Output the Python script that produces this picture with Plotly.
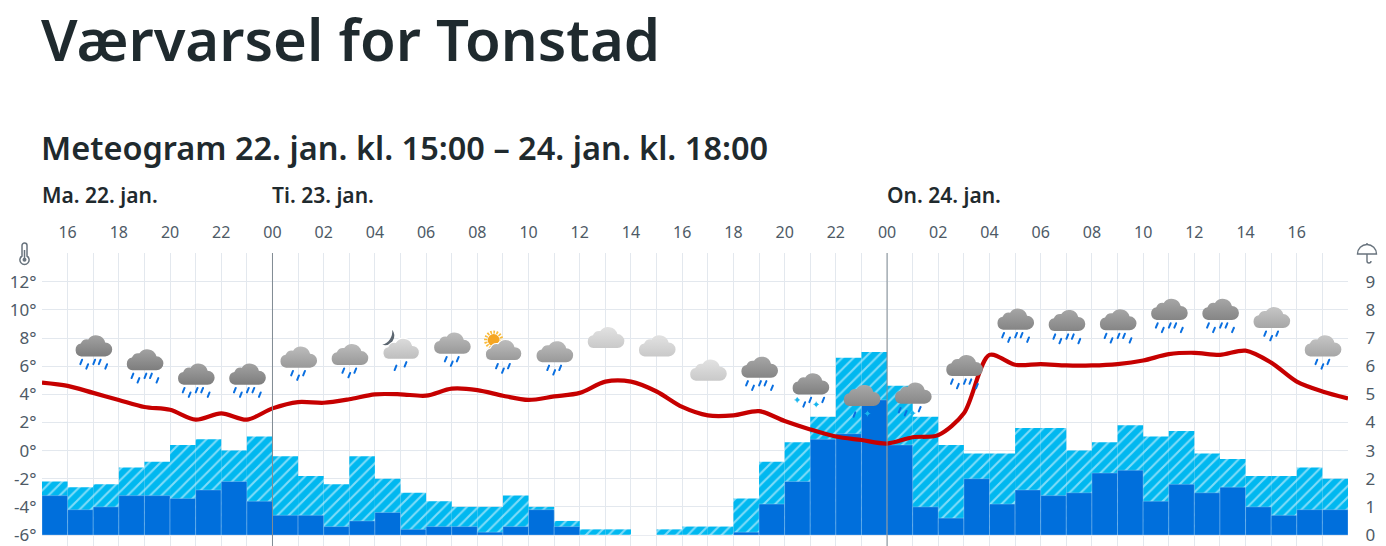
import base64
import plotly.graph_objects as go

hours = ["15","16","17","18","19","20","21","22","23","00","01","02","03","04","05","06","07","08","09","10","11","12","13","14","15","16","17","18","19","20","21","22","23","00","01","02","03","04","05","06","07","08","09","10","11","12","13","14","15","16","17","18"]
temperature = [4.83,4.6,4.1,3.6,3.1,2.9,2.2,2.65,2.2,3.0,3.45,3.4,3.65,4.0,4.0,3.9,4.4,4.3,3.9,3.6,3.85,4.1,4.9,4.9,4.2,3.1,2.5,2.5,2.8,2.1,1.5,1.0,0.75,0.5,0.95,1.1,2.65,6.8,6.1,6.15,6.05,6.05,6.15,6.4,6.85,6.95,6.8,7.1,6.25,4.9,4.2,3.7]
precip_max = [1.9,1.7,1.8,2.4,2.6,3.2,3.4,3.0,3.5,2.8,2.1,1.8,2.8,2.0,1.5,1.2,1.0,1.0,1.4,1.0,0.5,0.2,0.2,0,0.2,0.3,0.3,1.3,2.6,3.3,4.2,6.3,6.5,5.3,4.2,3.2,2.9,2.9,3.8,3.8,3.0,3.3,3.9,3.5,3.7,2.9,2.7,2.1,2.1,2.4,2.0]
precip_min = [1.4,0.9,1.0,1.4,1.4,1.3,1.6,1.9,1.2,0.7,0.7,0.3,0.5,0.8,0.2,0.3,0.3,0.1,0.3,0.9,0.3,0,0,0,0,0,0,0.1,1.1,1.9,3.4,3.6,4.8,3.2,1.0,0.6,2.0,1.1,1.6,1.4,1.5,2.2,2.3,1.2,1.8,1.5,1.7,1.0,0.7,0.9,0.9]
temp_ticks = [-6,-4,-2,0,2,4,6,8,10,12]
precip_ticks = [0,1,2,3,4,5,6,7,8,9]
day_labels = ["Ma. 22. jan.","Ti. 23. jan.","On. 24. jan."]
day_hours = [0,9,33]
# icon per even hour index, and the temperature-axis height of its cloud
icon_kinds = ["heavy","heavy","heavy","heavy","mod","mod","moon","mod","sun","mod","cloud","cloud","cloud","heavy2","sleet","sleet2","sleet3","heavy2","heavy2","heavy2","heavy2","heavy2","heavy2","lmod","lmod"]
icon_heights = [7.44,6.45,5.43,5.43,6.64,6.82,7.23,7.63,7.14,7.02,8.03,7.44,5.71,5.92,4.74,3.91,4.08,6.04,9.34,9.24,9.29,10.03,10.03,9.45,7.44]

FONT = "Noto Sans"
W, H = 1386, 546
L, R, T = 41.5, 1348.0, 253.0
PX_Y = 14.07
ymin = -6 - (H - 535) / PX_Y
ymax = -6 + (535 - T) / PX_Y

CLOUD = "M8,40.5 A6.5,6.5 0 0 1 7.5,27.7 A7,7 0 0 1 15,23.5 A9.5,9.5 0 0 1 32,26.5 A7,7 0 0 1 32,40.5 Z"
def drop(dx, dy):
    x, y = 20 + dx, 30 + dy
    return f'<path d="M{x+0.9},{y-2.2} L{x-0.9},{y+2.2}" stroke="#0a6fe0" stroke-width="2" stroke-linecap="round"/>'
def star(dx, dy):
    x, y = 20 + dx, 30 + dy
    return f'<circle cx="{x}" cy="{y}" r="1.8" fill="#19b6ee"/><path d="M{x-2.8},{y} H{x+2.8} M{x},{y-2.8} V{y+2.8}" stroke="#19b6ee" stroke-width="0.8"/>'
H5 = [drop(-12,16), drop(-6,20.5), drop(1,16), drop(6.5,16), drop(13,20.5)]
M3 = [drop(-6,16), drop(0,20.5), drop(6,16)]
MOON = '<path d="M11.7,11 A9.5,9.5 0 0 1 1.7,26 A14,14 0 0 0 11.7,11 Z" fill="#5c6670"/>'
SUN = '<circle cx="10.7" cy="20" r="8" fill="none" stroke="#f9bb3a" stroke-width="3.2" stroke-dasharray="1.6 1.5"/><circle cx="10.7" cy="20" r="6" fill="#f5a623"/>'
STYLES = {
    "heavy": ("#a2a2a2", "#7d7d7d", H5, ""),
    "heavy2": ("#a6a6a6", "#858585", H5, ""),
    "mod": ("#bcbcbc", "#999999", M3, ""),
    "lmod": ("#c6c6c6", "#a6a6a6", M3, ""),
    "moon": ("#dcdcdc", "#bdbdbd", [drop(-5,19), drop(5,15.5)], MOON),
    "sun": ("#bdbdbd", "#999999", M3, SUN),
    "cloud": ("#e2e2e2", "#c9c9c9", [], ""),
    "sleet": ("#a4a4a4", "#808080", [star(-13,16), drop(-6,20.5), drop(0,16), star(6,20.5), drop(13,16)], ""),
    "sleet2": ("#a8a8a8", "#888888", [drop(-7,19), star(6,18)], ""),
    "sleet3": ("#a8a8a8", "#888888", [drop(-13,17), drop(-7,20), star(0,20), drop(7,16)], ""),
}
def b64(svg):
    return "data:image/svg+xml;base64," + base64.b64encode(svg.encode()).decode()
def icon(kind):
    top, bottom, glyphs, extra = STYLES[kind]
    gid = "g" + kind
    return b64(f'<svg xmlns="http://www.w3.org/2000/svg" width="40" height="60" viewBox="0 0 40 60">'
               f'<defs><linearGradient id="{gid}" x1="0" y1="0" x2="0" y2="1"><stop offset="0" stop-color="{top}"/><stop offset="1" stop-color="{bottom}"/></linearGradient></defs>'
               f'{extra}<path d="{CLOUD}" fill="url(#{gid})" stroke="#ffffff" stroke-width="{1.2 if extra else 0}"/>{"".join(glyphs)}</svg>')

thermo = b64('<svg xmlns="http://www.w3.org/2000/svg" width="20" height="24" viewBox="0 0 20 24"><path d="M7.5,3.5 a2.5,2.5 0 0 1 5,0 V14 a4.6,4.6 0 1 1 -5,0 Z" fill="none" stroke="#68737d" stroke-width="1.5"/><circle cx="10" cy="17.8" r="2" fill="#68737d"/><path d="M10,8 V17" stroke="#68737d" stroke-width="1.5"/></svg>')
umbrella = b64('<svg xmlns="http://www.w3.org/2000/svg" width="24" height="24" viewBox="0 0 24 24"><path d="M2.5,12 A9.5,9.5 0 0 1 21.5,12 Z" fill="none" stroke="#68737d" stroke-width="1.4"/><path d="M12,2 V1 M12,12 V19 a2,2 0 0 0 4,0" fill="none" stroke="#68737d" stroke-width="1.4"/></svg>')

fig = go.Figure()
bar_x = [i + 0.5 for i in range(len(precip_max))]
fig.add_trace(go.Bar(x=bar_x, y=precip_max, width=1, yaxis="y", hoverinfo="skip",
                     marker=dict(color="#00b8f0", line_width=0,
                                 pattern=dict(shape="/", bgcolor="#00b8f0", fgcolor="#ffffff", size=8, solidity=0.26))))
fig.add_trace(go.Bar(x=bar_x, y=precip_min, width=1, yaxis="y", hoverinfo="skip",
                     marker=dict(color="#006fdc", line=dict(color="rgba(255,255,255,0.35)", width=0.7))))
fig.add_trace(go.Scatter(x=list(range(len(temperature))), y=temperature, yaxis="y2", mode="lines", hoverinfo="skip",
                         line=dict(color="#c60000", width=4.2, shape="spline", smoothing=0.85)))

GRID = "#e3e8ee"
TICK = "#4e5a66"
fig.update_layout(
    width=W, height=H, autosize=False, showlegend=False, barmode="overlay",
    paper_bgcolor="#ffffff", plot_bgcolor="#ffffff",
    font=dict(family=FONT, size=16, color=TICK),
    margin=dict(l=L, r=W - R, t=T, b=0, pad=0),
    xaxis=dict(range=[0, len(precip_max)], side="top", tickmode="array",
               tickvals=list(range(len(hours))),
               ticktext=[h if i % 2 == 1 and i < len(hours) - 1 else "" for i, h in enumerate(hours)],
               showgrid=True, gridcolor=GRID, gridwidth=1, zeroline=False, showline=False,
               ticks="outside", ticklen=8, tickcolor="rgba(0,0,0,0)", tickangle=0,
               tickfont=dict(family=FONT, size=16, color=TICK)),
    yaxis=dict(range=[(ymin + 6) / 2, (ymax + 6) / 2], side="right", tickmode="array",
               tickvals=precip_ticks + [10], ticktext=[str(t) for t in precip_ticks] + [""],
               showgrid=True, gridcolor=GRID, gridwidth=1, zeroline=False, showline=False,
               ticks="outside", ticklen=13, tickcolor="rgba(0,0,0,0)",
               tickfont=dict(family=FONT, size=17, color=TICK)),
    yaxis2=dict(range=[ymin, ymax], side="left", overlaying="y", tickmode="array",
                tickvals=temp_ticks, ticktext=[f"{t}°" for t in temp_ticks],
                showgrid=False, zeroline=False, showline=False,
                ticks="outside", ticklen=1, tickcolor="rgba(0,0,0,0)",
                tickfont=dict(family=FONT, size=17, color=TICK)),
)

for hour in day_hours[1:]:
    fig.add_shape(type="line", xref="x", yref="paper", x0=hour, x1=hour, y0=0, y1=1,
                  line=dict(color="#808a93", width=1), layer="above")
fig.add_shape(type="line", xref="paper", yref="y2", x0=0, x1=1, y0=0, y1=0,
              line=dict(color="#ffffff", width=1.5), layer="below")
fig.add_shape(type="line", xref="paper", yref="y2", x0=0, x1=1, y0=0, y1=0,
              line=dict(color=GRID, width=1, dash="8px,8px"), layer="below")

images = []
for i, (kind, h) in enumerate(zip(icon_kinds, icon_heights)):
    images.append(dict(source=icon(kind), xref="x", yref="y2", x=2 * (i + 1), y=h,
                       sizex=40 / ((R - L) / len(precip_max)), sizey=60 / PX_Y,
                       xanchor="center", yanchor="middle", sizing="stretch", layer="above"))
images.append(dict(source=thermo, xref="paper", yref="paper", x=(24 - L) / (R - L), y=(H - 254) / (H - T),
                   sizex=20 / (R - L), sizey=24 / (H - T), xanchor="center", yanchor="middle", sizing="stretch", layer="above"))
images.append(dict(source=umbrella, xref="paper", yref="paper", x=(1367 - L) / (R - L), y=(H - 254) / (H - T),
                   sizex=24 / (R - L), sizey=24 / (H - T), xanchor="center", yanchor="middle", sizing="stretch", layer="above"))
fig.update_layout(images=images)

def paper_y(py):
    return (H - py) / (H - T)
INK = "#1f2a2e"
fig.add_annotation(text="Værvarsel for Tonstad", xref="paper", yref="paper", x=0, y=paper_y(38),
                   xanchor="left", yanchor="middle", showarrow=False, xshift=-3,
                   font=dict(family=FONT, size=58, color=INK, weight=600))
fig.add_annotation(text="Meteogram 22. jan. kl. 15:00 – 24. jan. kl. 18:00", xref="paper", yref="paper", x=0, y=paper_y(147),
                   xanchor="left", yanchor="middle", showarrow=False, xshift=-3,
                   font=dict(family=FONT, size=32.5, color=INK, weight=600))
for label, hour in zip(day_labels, day_hours):
    fig.add_annotation(text=label, xref="x", yref="paper", x=hour, y=paper_y(195),
                       xanchor="left", yanchor="middle", showarrow=False, xshift=-2,
                       font=dict(family=FONT, size=21, color=INK, weight=600))

fig.write_html("out.html", config={"displayModeBar": False},
               post_script="document.body.style.margin='0';document.documentElement.style.overflow='hidden';")
